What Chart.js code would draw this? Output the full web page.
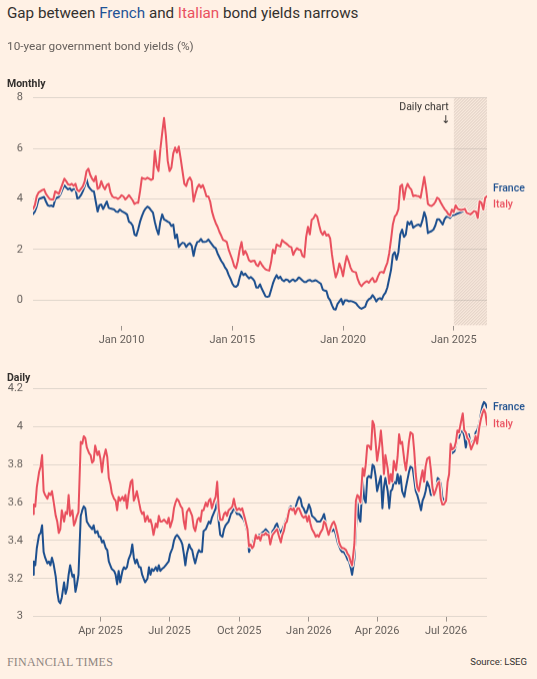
<!DOCTYPE html>
<html>
<head>
<meta charset="utf-8">
<script src="https://cdn.jsdelivr.net/npm/chart.js@4.4.1/dist/chart.umd.min.js"></script>
<style>
html,body{margin:0;padding:0;background:#fff1e5;}
body{width:537px;height:679px;position:relative;overflow:hidden;font-family:Roboto,"Open Sans",sans-serif;color:#33302e;}
.t{position:absolute;white-space:nowrap;}
#title{left:7px;top:4px;font-size:15.2px;line-height:18px;}
#sub{left:7px;top:38px;font-size:11.8px;line-height:16px;color:#66605c;}
#lblM{left:7px;top:77px;font-size:10.5px;line-height:14px;font-weight:700;}
#lblD{left:7px;top:371px;font-size:10.5px;line-height:14px;font-weight:700;}
#ft{left:7px;top:654px;font-family:"Liberation Serif","DejaVu Serif",serif;font-size:12px;line-height:16px;color:#8e857f;letter-spacing:0.2px;}
#src{right:10px;top:655px;font-size:9.5px;line-height:14px;color:#33302e;}
.box{position:absolute;left:0;width:537px;}
#boxM{top:80px;height:270px;}
#boxD{top:372px;height:274px;}
canvas{display:block;}
</style>
</head>
<body>
<div class="box" id="boxM"><canvas id="cM"></canvas></div>
<div class="box" id="boxD"><canvas id="cD"></canvas></div>
<div class="t" id="title">Gap between <span style="color:#1f5396">French</span> and <span style="color:#e9505e">Italian</span> bond yields narrows</div>
<div class="t" id="sub">10-year government bond yields (%)</div>
<div class="t" id="lblM">Monthly</div>
<div class="t" id="lblD">Daily</div>
<div class="t" id="ft">FINANCIAL TIMES</div>
<div class="t" id="src">Source: LSEG</div>
<script>
// ---------- DATA ----------
// Monthly series: first value = Jan 2006, one value per month
const monthlyStartYear = 2006;
const monthlyFrance = [
3.4,3.5,3.7,3.98,4.02,4.05,4.08,3.9,3.75,3.72,3.74,3.7,
3.98,4.05,4.08,4.2,4.38,4.54,4.45,4.38,4.42,4.32,4.4,4.4,
4.02,4.05,4.15,4.3,4.5,4.78,4.5,4.4,4.32,4.3,3.9,3.5,
3.75,3.78,3.6,3.75,3.9,3.65,3.62,3.6,3.58,3.5,3.48,3.58,
3.52,3.48,3.44,3.38,3.1,3.05,2.95,2.6,2.55,2.8,3.1,3.32,
3.5,3.62,3.7,3.65,3.55,3.46,3.1,2.8,2.6,3.1,3.39,3.19,
3.15,3.1,3.06,2.93,2.99,2.45,2.6,2.1,2.2,2.27,2.25,2.1,
2.2,2.25,2.15,1.75,2.1,2.3,2.32,2.42,2.3,2.3,2.32,2.4,
2.3,2.2,2.1,2.05,1.85,1.7,1.55,1.45,1.3,1.2,1.0,0.85,
0.66,0.55,0.53,0.6,0.9,1.13,0.99,1.05,0.95,0.86,0.92,0.85,
0.75,0.5,0.5,0.63,0.45,0.3,0.15,0.13,0.16,0.4,0.66,0.85,
0.99,0.86,0.93,0.8,0.75,0.82,0.8,0.72,0.78,0.82,0.75,0.8,
0.9,0.85,0.78,0.72,0.72,0.78,0.8,0.75,0.76,0.79,0.75,0.7,
0.65,0.42,0.38,0.36,0.1,0.0,-0.2,-0.35,-0.37,-0.15,-0.05,0.05,
-0.17,0.0,0.0,-0.04,-0.03,-0.05,-0.08,-0.12,-0.22,-0.3,-0.34,-0.3,
-0.26,-0.05,0.04,0.08,0.2,0.1,-0.05,0.05,0.08,0.03,0.2,0.3,
0.5,0.85,1.2,1.8,1.9,1.6,1.9,2.6,2.79,2.5,2.6,3.1,
2.99,3.12,2.86,2.92,2.97,2.99,2.92,3.15,3.48,3.25,2.65,2.7,
2.73,2.79,2.95,3.2,3.2,3.1,2.99,3.2,3.3,3.3,3.25,3.35,
3.36,3.39,3.42,3.45,3.48,3.52,3.58,3.42,3.4,3.36,3.43,3.48,
3.45,3.22,3.85,3.8,3.55,3.98,4.08
];
const monthlyItaly = [
3.6,3.75,4.1,4.25,4.3,4.35,4.38,4.2,4.1,4.0,3.98,3.98,
4.3,4.25,4.2,4.4,4.6,4.8,4.7,4.58,4.55,4.6,4.52,4.6,
4.35,4.3,4.4,4.5,4.7,5.1,5.2,4.95,4.8,4.7,4.9,4.4,
4.45,4.7,4.5,4.38,4.55,4.6,4.25,4.1,4.05,4.05,4.0,4.05,
4.15,4.1,3.98,4.05,4.15,4.05,3.95,3.8,3.85,3.85,4.3,4.84,
4.8,4.78,4.84,4.8,4.75,4.8,5.9,5.3,5.1,5.96,6.6,7.2,
6.5,5.5,5.1,5.24,5.8,6.03,5.83,6.07,5.6,5.1,4.6,4.51,
4.75,4.85,4.7,3.9,4.2,4.45,4.57,4.45,4.55,4.35,4.1,4.1,
3.9,3.5,3.25,3.05,2.9,2.7,2.55,2.38,2.35,2.3,2.0,1.8,
1.6,1.35,1.26,1.55,2.0,2.3,1.8,1.95,1.8,1.58,1.52,1.55,
1.56,1.4,1.35,1.52,1.4,1.3,1.22,1.19,1.17,1.5,2.0,1.85,
2.2,2.15,2.12,2.38,2.3,2.25,2.19,2.12,2.09,1.79,1.95,2.05,
2.0,1.99,1.75,1.7,2.5,2.9,2.6,3.18,3.24,3.38,3.3,2.98,
2.7,2.58,2.72,2.55,2.6,2.45,1.8,1.3,0.9,1.1,1.45,1.25,
0.95,1.4,1.75,1.55,1.3,1.15,1.12,1.1,0.82,0.65,0.55,0.65,
0.71,0.75,0.69,0.8,0.88,0.72,0.75,0.95,1.1,1.12,1.08,1.3,
1.48,1.85,2.4,3.0,3.3,3.39,3.6,4.5,4.57,3.98,4.4,4.6,
4.45,4.37,4.11,4.14,4.12,4.11,4.04,4.45,4.87,4.4,3.8,3.74,
3.72,3.78,3.88,4.05,4.0,3.85,3.72,3.6,3.52,3.4,3.35,3.58,
3.48,3.75,3.62,3.58,3.56,3.58,3.61,3.45,3.42,3.39,3.45,3.52,
3.5,3.25,3.91,3.85,3.58,4.04,4.11
];
const monthlyTickYears = [2010, 2015, 2020, 2025];
const monthlyTickLabels = ['Jan 2010', 'Jan 2015', 'Jan 2020', 'Jan 2025'];
const monthlyYTicks = [0, 2, 4, 6, 8];
const monthlyYRange = [-1, 8];
const dailyPanelStartYear = 2025;   // start of the shaded "Daily chart" period

// Daily series: days counted from 1 Jan 2025
const dailyDay = [1,2,4,6,9,11,13,15,17,20,22,24,26,28,31,33,35,37,39,42,44,46,48,50,53,55,57,59,61,64,66,68,70,72,75,77,79,81,83,86,88,90,92,94,97,99,101,103,105,108,110,112,114,116,119,121,123,125,127,130,132,134,136,138,141,143,145,147,149,152,154,156,158,160,163,165,167,169,171,174,176,178,180,182,185,187,189,191,193,196,198,200,202,204,207,209,211,213,215,218,220,222,224,226,229,231,233,235,237,240,242,244,246,248,251,253,255,257,259,262,264,266,268,270,273,275,277,279,281,284,286,288,290,292,295,297,299,301,303,306,308,310,312,314,317,319,321,323,325,328,330,332,334,336,339,341,343,345,347,350,352,354,356,358,361,363,365,367,369,372,374,376,378,380,383,385,387,389,391,394,396,398,400,403,405,407,409,411,414,416,418,420,422,425,427,429,431,433,436,438,440,442,444,447,449,451,453,455,458,460,462,464,466,469,471,473,475,477,480,482,484,486,488,491,493,495,497,499,502,504,506,508,510,513,515,517,519,521,524,526,528,530,532,535,537,539,541,543,546,548,550,552,554,557,559,561,563,565,568,570,572,574,576,579,581,583,585,587,590,592,594,596,598,600];
const dailyFrance = [3.22,3.29,3.27,3.36,3.43,3.44,3.48,3.34,3.31,3.28,3.29,3.27,3.31,3.28,3.21,3.13,3.08,3.07,3.1,3.18,3.12,3.15,3.22,3.27,3.21,3.22,3.13,3.17,3.22,3.53,3.56,3.58,3.57,3.5,3.48,3.47,3.46,3.48,3.44,3.45,3.42,3.42,3.39,3.4,3.36,3.35,3.29,3.27,3.25,3.24,3.22,3.17,3.24,3.18,3.24,3.26,3.25,3.26,3.3,3.33,3.38,3.31,3.28,3.3,3.26,3.26,3.22,3.2,3.18,3.2,3.26,3.22,3.25,3.24,3.26,3.24,3.27,3.24,3.25,3.26,3.27,3.28,3.29,3.33,3.36,3.4,3.42,3.43,3.42,3.4,3.38,3.33,3.27,3.33,3.38,3.36,3.35,3.31,3.28,3.33,3.35,3.34,3.34,3.45,3.46,3.48,3.5,3.49,3.52,3.55,3.57,3.61,3.5,3.43,3.42,3.46,3.48,3.49,3.5,3.54,3.55,3.58,3.56,3.54,3.54,3.53,3.52,3.51,3.49,3.44,3.34,3.36,3.37,3.4,3.43,3.42,3.43,3.43,3.44,3.45,3.46,3.45,3.44,3.4,3.45,3.46,3.48,3.49,3.46,3.44,3.46,3.48,3.5,3.52,3.57,3.58,3.57,3.57,3.57,3.61,3.63,3.62,3.58,3.57,3.54,3.56,3.59,3.57,3.53,3.52,3.51,3.5,3.5,3.5,3.52,3.54,3.5,3.47,3.44,3.45,3.45,3.46,3.44,3.39,3.37,3.35,3.34,3.34,3.32,3.3,3.29,3.26,3.22,3.3,3.45,3.61,3.52,3.5,3.72,3.62,3.6,3.73,3.74,3.73,3.8,3.79,3.74,3.66,3.71,3.74,3.57,3.68,3.73,3.66,3.57,3.66,3.67,3.71,3.7,3.75,3.7,3.74,3.66,3.63,3.68,3.72,3.76,3.79,3.78,3.72,3.66,3.64,3.61,3.56,3.61,3.63,3.66,3.71,3.68,3.64,3.64,3.65,3.65,3.73,3.72,3.7,3.63,3.61,3.62,3.7,3.74,3.88,3.86,3.87,3.9,3.95,3.94,3.97,3.98,3.95,3.89,3.93,3.96,3.9,3.92,3.93,3.97,3.98,4.02,4.07,4.11,4.13,4.12,4.1];
const dailyItaly = [3.54,3.59,3.58,3.68,3.76,3.79,3.85,3.66,3.64,3.62,3.65,3.64,3.66,3.61,3.53,3.5,3.44,3.46,3.56,3.5,3.55,3.54,3.64,3.53,3.56,3.48,3.5,3.53,3.55,3.92,3.91,3.95,3.94,3.89,3.86,3.85,3.81,3.82,3.9,3.85,3.87,3.83,3.76,3.83,3.88,3.84,3.73,3.7,3.65,3.62,3.61,3.56,3.63,3.61,3.63,3.61,3.64,3.57,3.64,3.71,3.72,3.61,3.63,3.66,3.6,3.56,3.54,3.55,3.5,3.53,3.5,3.51,3.48,3.43,3.49,3.47,3.53,3.5,3.5,3.51,3.5,3.49,3.52,3.47,3.51,3.57,3.6,3.62,3.61,3.58,3.57,3.5,3.46,3.55,3.57,3.55,3.53,3.47,3.45,3.51,3.52,3.5,3.56,3.56,3.6,3.58,3.61,3.62,3.57,3.61,3.63,3.71,3.57,3.51,3.51,3.54,3.55,3.53,3.56,3.57,3.58,3.62,3.58,3.56,3.57,3.56,3.57,3.54,3.51,3.46,3.37,3.38,3.36,3.37,3.43,3.41,3.42,3.4,3.43,3.43,3.44,3.43,3.43,3.38,3.43,3.44,3.45,3.46,3.43,3.39,3.43,3.45,3.49,3.5,3.56,3.57,3.56,3.57,3.54,3.57,3.57,3.55,3.53,3.52,3.53,3.5,3.53,3.49,3.46,3.44,3.42,3.43,3.42,3.44,3.46,3.5,3.49,3.46,3.43,3.47,3.49,3.5,3.48,3.43,3.39,3.37,3.36,3.36,3.35,3.33,3.32,3.29,3.27,3.38,3.61,3.64,3.63,3.6,3.78,3.74,3.8,3.9,3.9,3.88,4.03,4.01,3.92,3.82,3.9,3.98,3.89,3.75,3.85,3.78,3.7,3.75,3.71,3.82,3.77,3.84,3.96,3.91,3.92,3.82,3.77,3.84,3.92,3.97,3.96,3.87,3.75,3.68,3.66,3.73,3.77,3.71,3.79,3.83,3.84,3.77,3.68,3.64,3.66,3.7,3.71,3.62,3.59,3.59,3.61,3.71,3.75,3.91,3.88,3.89,3.92,3.98,3.97,4.01,4.07,3.98,3.97,3.94,3.93,3.88,3.9,3.92,3.95,3.91,4.0,4.04,4.07,4.09,4.07,4.01];
const dailyTickDays = [90, 181, 273, 365, 455, 546];
const dailyTickLabels = ['Apr 2025', 'Jul 2025', 'Oct 2025', 'Jan 2026', 'Apr 2026', 'Jul 2026'];
const dailyYTicks = [3, 3.2, 3.4, 3.6, 3.8, 4, 4.2];
const dailyYLabels = ['3', '3.2', '3.4', '3.6', '3.8', '4', '4.2'];

// ---------- STYLE ----------
const BG = '#fff1e5';
const FR = '#1d4f8e';
const IT = '#e9505e';
const GRID = '#e2d7cd';
const TXT = '#66605c';
const FONT = 'Roboto';

const monthlyX = monthlyFrance.map((_, i) => monthlyStartYear + i / 12);

function series(xs, ys) { return ys.map((v, i) => ({ x: xs[i], y: v })); }

function datasets(xs, fr, it) {
  const common = { pointRadius: 0, pointHoverRadius: 0, tension: 0, fill: false, borderJoinStyle: 'round', borderCapStyle: 'round' };
  return [
    Object.assign({ label: 'Italy', data: series(xs, it), borderColor: IT, borderWidth: 2, order: 0, endLabel: 'Italy' }, common),
    Object.assign({ label: 'ItalyHalo', data: series(xs, it), borderColor: BG, borderWidth: 4, order: 1 }, common),
    Object.assign({ label: 'France', data: series(xs, fr), borderColor: FR, borderWidth: 2, order: 2, endLabel: 'France' }, common)
  ];
}

const endLabels = {
  id: 'endLabels',
  afterDatasetsDraw(chart) {
    const { ctx, chartArea } = chart;
    const pos = {};
    chart.data.datasets.forEach((ds, i) => {
      if (!ds.endLabel) return;
      const meta = chart.getDatasetMeta(i);
      pos[ds.endLabel] = meta.data[meta.data.length - 1].y;
    });
    let yF = pos.France, yI = pos.Italy;
    if (Math.abs(yF - yI) < 16) {
      const mid = (yF + yI) / 2;
      yF = mid - 8; yI = mid + 8;
    }
    ctx.save();
    ctx.font = '500 10.5px ' + FONT;
    ctx.textAlign = 'left';
    ctx.textBaseline = 'middle';
    ctx.fillStyle = FR; ctx.fillText('France', chartArea.right + 6, yF);
    ctx.fillStyle = IT; ctx.fillText('Italy', chartArea.right + 6, yI);
    ctx.restore();
  }
};

const hatch = {
  id: 'hatch',
  beforeDatasetsDraw(chart) {
    const { ctx, chartArea, scales } = chart;
    const x0 = scales.x.getPixelForValue(dailyPanelStartYear);
    const x1 = chartArea.right;
    const y0 = scales.y.getPixelForValue(monthlyYRange[1]);
    const y1 = chartArea.bottom;
    ctx.save();
    ctx.beginPath(); ctx.rect(x0, y0, x1 - x0, y1 - y0); ctx.clip();
    ctx.fillStyle = 'rgba(150,130,115,0.07)';
    ctx.fillRect(x0, y0, x1 - x0, y1 - y0);
    ctx.strokeStyle = 'rgba(130,110,100,0.30)';
    ctx.lineWidth = 0.8;
    ctx.beginPath();
    const h = y1 - y0;
    for (let s = x0 - h; s < x1 + 3; s += 3) { ctx.moveTo(s, y1); ctx.lineTo(s + h, y0); }
    ctx.stroke();
    ctx.restore();
  },
  afterDraw(chart) {
    const { ctx, scales } = chart;
    const x0 = scales.x.getPixelForValue(dailyPanelStartYear);
    const y0 = scales.y.getPixelForValue(monthlyYRange[1]);
    ctx.save();
    ctx.fillStyle = '#33302e';
    ctx.font = '10.5px ' + FONT;
    ctx.textAlign = 'right';
    ctx.textBaseline = 'middle';
    ctx.fillText('Daily chart', x0 - 5, y0 + 10);
    ctx.font = '11px "DejaVu Sans", ' + FONT;
    ctx.textAlign = 'center';
    ctx.fillText('\u2193', x0 - 8, y0 + 23);
    ctx.restore();
  }
};

function makeChart(id, xs, fr, it, opt) {
  return new Chart(document.getElementById(id), {
    type: 'line',
    data: { datasets: datasets(xs, fr, it) },
    plugins: opt.plugins,
    options: {
      responsive: true,
      maintainAspectRatio: false,
      animation: false,
      events: [],
      layout: { padding: { top: 0, right: 50, left: 0, bottom: 0 } },
      plugins: { legend: { display: false }, tooltip: { enabled: false } },
      scales: {
        x: {
          type: 'linear',
          min: xs[0], max: xs[xs.length - 1],
          afterBuildTicks: s => { s.ticks = opt.xTicks.map(v => ({ value: v })); },
          afterFit: s => { s.height = opt.xHeight; },
          ticks: { autoSkip: false, maxRotation: 0, padding: 3, color: TXT, font: { family: FONT, size: 11 },
                   callback: (v, i) => opt.xLabels[i] },
          grid: { drawOnChartArea: false, drawTicks: true, tickLength: 5, color: '#9a928c', lineWidth: 1 },
          border: { display: false }
        },
        y: {
          min: opt.yRange[0], max: opt.yRange[1],
          afterBuildTicks: s => { s.ticks = opt.yTicks.map(v => ({ value: v })); },
          afterFit: s => { s.width = 33; },
          ticks: { padding: 10, color: TXT, font: { family: FONT, size: 11 },
                   callback: (v, i) => opt.yLabels[i] },
          grid: { color: GRID, lineWidth: 1, drawTicks: false },
          border: { display: false }
        }
      }
    }
  });
}

// place the plot area of a chart at the wanted page coordinates
function place(chart, boxId, areaTop, areaBottom, xHeight) {
  const box = document.getElementById(boxId);
  const newTop = areaTop - chart.chartArea.top;
  box.style.top = newTop + 'px';
  box.style.height = (areaBottom - newTop + xHeight) + 'px';
  chart.resize();
}

const chartM = makeChart('cM', monthlyX, monthlyFrance, monthlyItaly, {
  xHeight: 25,
  xTicks: monthlyTickYears, xLabels: monthlyTickLabels,
  yTicks: monthlyYTicks, yLabels: monthlyYTicks.map(String), yRange: monthlyYRange,
  plugins: [hatch, endLabels]
});
place(chartM, 'boxM', 98, 325, 25);

const chartD = makeChart('cD', dailyDay, dailyFrance, dailyItaly, {
  xHeight: 30,
  xTicks: dailyTickDays, xLabels: dailyTickLabels,
  yTicks: dailyYTicks, yLabels: dailyYLabels, yRange: [3, 4.2],
  plugins: [endLabels]
});
place(chartD, 'boxD', 389, 616, 30);
</script>
</body>
</html>
